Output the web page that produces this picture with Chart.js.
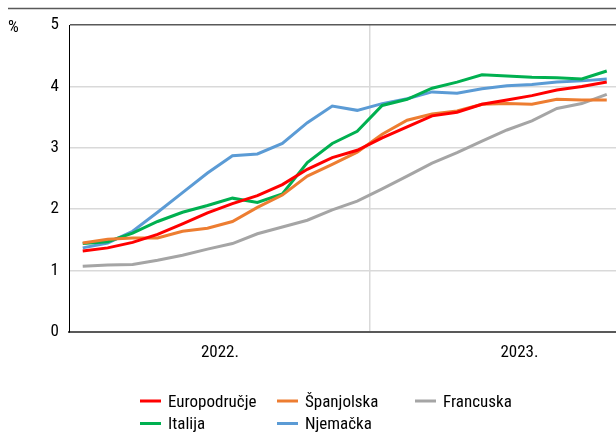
<!DOCTYPE html>
<html>
<head>
<meta charset="utf-8">
<script src="https://cdn.jsdelivr.net/npm/chart.js@4/dist/chart.umd.min.js"></script>
<style>
  html, body { margin: 0; padding: 0; background: #fff; }
  #wrap { width: 616px; height: 432px; position: relative; }
</style>
</head>
<body>
<div id="wrap"><canvas id="c"></canvas></div>
<script>
// Months: January 2022 – October 2023
const categories = ['sij. 2022.','velj. 2022.','ožu. 2022.','tra. 2022.','svi. 2022.','lip. 2022.','srp. 2022.','kol. 2022.','ruj. 2022.','lis. 2022.','stu. 2022.','pro. 2022.',
                    'sij. 2023.','velj. 2023.','ožu. 2023.','tra. 2023.','svi. 2023.','lip. 2023.','srp. 2023.','kol. 2023.','ruj. 2023.','lis. 2023.'];
const yearLabels = ['2022.', '2023.'];
const yTicks = [0, 1, 2, 3, 4, 5];
const unitLabel = '%';

const europodrucje = [1.32,1.37,1.46,1.59,1.76,1.94,2.09,2.22,2.40,2.65,2.84,2.96,3.16,3.34,3.52,3.58,3.71,3.78,3.85,3.94,4.00,4.07];
const italija      = [1.44,1.47,1.61,1.80,1.95,2.06,2.18,2.11,2.25,2.76,3.07,3.27,3.69,3.79,3.97,4.07,4.19,4.17,4.15,4.14,4.12,4.25];
const spanjolska   = [1.45,1.51,1.53,1.53,1.64,1.69,1.80,2.03,2.23,2.54,2.73,2.93,3.22,3.45,3.55,3.60,3.71,3.72,3.71,3.79,3.78,3.78];
const njemacka     = [1.37,1.45,1.64,1.95,2.27,2.59,2.87,2.90,3.07,3.41,3.68,3.61,3.72,3.80,3.91,3.89,3.96,4.01,4.03,4.07,4.09,4.12];
const francuska    = [1.07,1.09,1.10,1.17,1.25,1.35,1.44,1.60,1.71,1.82,1.99,2.13,2.33,2.54,2.75,2.92,3.11,3.29,3.44,3.64,3.72,3.87];

const FONT = "'Liberation Sans Narrow', 'Arial Narrow', 'Roboto Condensed', sans-serif";

function pts(arr) { return arr.map((v, i) => ({ x: i, y: v })); }

const series = [
  { label: 'Europodručje', data: europodrucje, color: '#ff0000' },
  { label: 'Španjolska',   data: spanjolska,   color: '#ed7d31' },
  { label: 'Francuska',    data: francuska,    color: '#a5a5a5' },
  { label: 'Italija',      data: italija,      color: '#00b050' },
  { label: 'Njemačka',     data: njemacka,     color: '#5b9bd5' }
];

// Year centers and boundary in month-index units
const yearCenter = [5.5, 17.5];
const yearBoundary = 11.5;

const extras = {
  id: 'extras',
  afterDraw(chart) {
    const ctx = chart.ctx;
    ctx.save();
    // top rule
    ctx.strokeStyle = '#595959';
    ctx.lineWidth = 1.5;
    ctx.beginPath();
    ctx.moveTo(8, 8.5);
    ctx.lineTo(616, 8.5);
    ctx.stroke();
    // unit label
    ctx.fillStyle = '#000';
    ctx.font = '17px ' + FONT;
    ctx.textBaseline = 'middle';
    ctx.textAlign = 'left';
    ctx.fillText(unitLabel, 8, chart.scales.y.getPixelForValue(5) + 3);
    // legend (3 columns, row-major)
    const colX = [140, 277, 415];
    const rowY = [401, 423.5];
    chart.data.datasets.forEach((ds, i) => {
      const x = colX[i % 3], y = rowY[Math.floor(i / 3)];
      ctx.strokeStyle = ds.borderColor;
      ctx.lineWidth = 3;
      ctx.beginPath();
      ctx.moveTo(x, y);
      ctx.lineTo(x + 21, y);
      ctx.stroke();
      ctx.fillStyle = '#000';
      ctx.fillText(ds.label, x + 28, y + 1.5);
    });
    ctx.restore();
  }
};

new Chart(document.getElementById('c'), {
  type: 'line',
  data: {
    datasets: series.map(s => ({
      label: s.label,
      data: pts(s.data),
      borderColor: s.color,
      backgroundColor: s.color,
      borderWidth: 3,
      pointRadius: 0,
      tension: 0,
      fill: false
    }))
  },
  options: {
    responsive: true,
    maintainAspectRatio: false,
    animation: false,
    layout: { padding: { top: 25, left: 0, right: 0, bottom: 0 } },
    plugins: { legend: { display: false }, tooltip: { enabled: false } },
    scales: {
      x: {
        type: 'linear',
        min: -0.55,
        max: 21.37,
        afterBuildTicks(scale) {
          scale.ticks = [{ value: yearCenter[0] }, { value: yearBoundary }, { value: yearCenter[1] }];
        },
        afterFit(scale) { scale.height = 100; },
        ticks: {
          autoSkip: false,
          maxRotation: 0,
          padding: 11,
          color: '#000',
          font: { family: FONT, size: 17 },
          callback: (v) => {
            const k = yearCenter.indexOf(v);
            return k >= 0 ? yearLabels[k] : '';
          }
        },
        grid: {
          drawTicks: false,
          lineWidth: 1.5,
          color: (c) => (c.tick && c.tick.value === yearBoundary) ? '#d9d9d9' : 'rgba(0,0,0,0)'
        },
        border: { display: true, color: '#595959', width: 2 }
      },
      y: {
        min: 0,
        max: 5,
        afterBuildTicks(scale) { scale.ticks = yTicks.map(v => ({ value: v })); },
        afterFit(scale) { scale.width = 69; },
        ticks: {
          padding: 10,
          color: '#000',
          font: { family: FONT, size: 17 }
        },
        grid: {
          drawTicks: false,
          lineWidth: 1.5,
          color: (c) => (c.tick && c.tick.value === 5) ? '#595959' : '#d9d9d9'
        },
        border: { display: true, color: '#000', width: 1 }
      }
    }
  },
  plugins: [extras]
});
</script>
</body>
</html>
